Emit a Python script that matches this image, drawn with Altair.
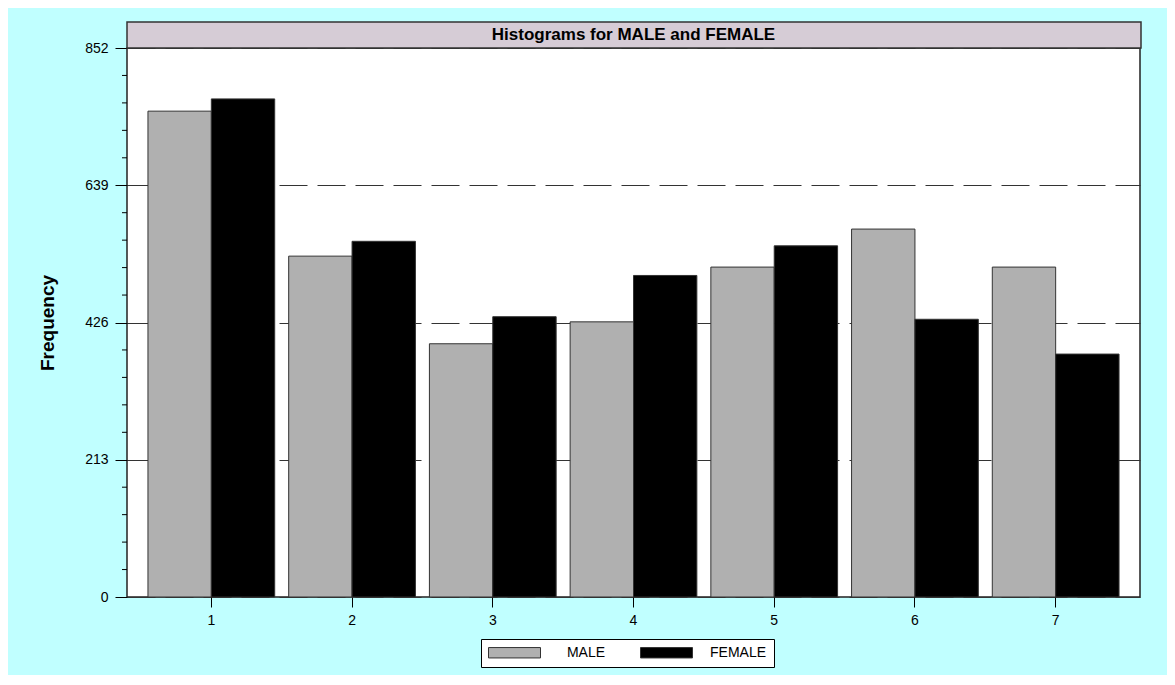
import altair as alt
import pandas as pd

# ---- data ----
CATEGORIES = ["1", "2", "3", "4", "5", "6", "7"]
MALE = [754, 529, 393, 427, 512, 571, 512]
FEMALE = [773, 552, 435, 499, 545, 431, 377]
SERIES = ["MALE", "FEMALE"]
Y_TICKS = [0, 213, 426, 639, 852]
Y_MINOR_TICKS = [42.6, 85.2, 127.8, 170.4, 255.6, 298.2, 340.8, 383.4,
                 468.6, 511.2, 553.8, 596.4, 681.6, 724.2, 766.8, 809.4]
TITLE = "Histograms for MALE and FEMALE"
Y_TITLE = "Frequency"

rows = []
for c, m, f in zip(CATEGORIES, MALE, FEMALE):
    rows.append({"group": c, "series": "MALE", "Frequency": m})
    rows.append({"group": c, "series": "FEMALE", "Frequency": f})
df = pd.DataFrame(rows)
minor_df = pd.DataFrame({"Frequency": Y_MINOR_TICKS})
title_df = pd.DataFrame({"title": [TITLE]})

W, H = 1013, 549
FONT = "Liberation Sans"

y_scale = alt.Scale(domain=[0, 852], nice=False, zero=True)
y_axis = alt.Axis(values=Y_TICKS, title=Y_TITLE, tickSize=12, labelPadding=7,
                  labelFontSize=14, labelFont=FONT, labelColor="black",
                  tickColor="black", domain=False,
                  grid=True, gridDash=[28, 10], gridColor="#333333", gridWidth=1,
                  titleFont=FONT, titleFontSize=19, titleFontWeight="bold",
                  titleColor="black", titleX=-80, titleY=H / 2, titleAngle=-90,
                  titleAlign="center", titleBaseline="middle")

bars = alt.Chart(df).mark_bar(stroke="#333333", strokeWidth=1).encode(
    x=alt.X("group:N", sort=CATEGORIES,
            scale=alt.Scale(paddingInner=0.0993, paddingOuter=0.149),
            axis=alt.Axis(title=None, labelAngle=0, tickSize=10, labelPadding=6,
                          labelFontSize=14, labelFont=FONT, labelColor="black",
                          tickColor="black", domain=False, grid=False)),
    xOffset=alt.XOffset("series:N", sort=SERIES, scale=alt.Scale(paddingInner=0, paddingOuter=0)),
    y=alt.Y("Frequency:Q", scale=y_scale, axis=y_axis),
    color=alt.Color("series:N", sort=SERIES,
                    scale=alt.Scale(domain=SERIES, range=["#B0B0B0", "#000000"]),
                    legend=alt.Legend(title=None, orient="none", legendX=354, legendY=591,
                                      direction="horizontal", fillColor="white",
                                      strokeColor="black", padding=7,
                                      symbolType="M-1,-0.2H1V0.2H-1Z", symbolSize=2704,
                                      symbolStrokeColor="#333333", symbolStrokeWidth=1,
                                      symbolOpacity=1, clipHeight=13,
                                      labelFont=FONT, labelFontSize=14, labelColor="black",
                                      labelAlign="center", labelOffset=45,
                                      columnPadding=34)),
)

minor = alt.Chart(minor_df).mark_rule(color="black", strokeWidth=1).encode(
    y=alt.Y("Frequency:Q", scale=y_scale, axis=y_axis),
    x=alt.value(-5),
    x2=alt.value(0),
)

band = alt.Chart(title_df).mark_rect(fill="#D6CCD6", stroke="#333333", strokeWidth=1.5).encode(
    x=alt.value(0), x2=alt.value(W + 1), y=alt.value(-26), y2=alt.value(0),
)

title_text = alt.Chart(title_df).mark_text(
    font=FONT, fontSize=17, fontWeight="bold", color="black",
    align="center", baseline="middle",
).encode(
    text="title:N", x=alt.value(W / 2), y=alt.value(-13),
)

chart = alt.layer(band, title_text, bars, minor).properties(
    width=W, height=H,
    autosize=alt.AutoSizeParams(type="none"),
    padding={"left": 119, "top": 40, "right": 27, "bottom": 78},
    background="#C0FFFF",
).configure_view(
    fill="white", stroke="#222222", strokeWidth=1.5,
)

chart.save("out.html", embed_options={"renderer": "svg", "actions": False})
